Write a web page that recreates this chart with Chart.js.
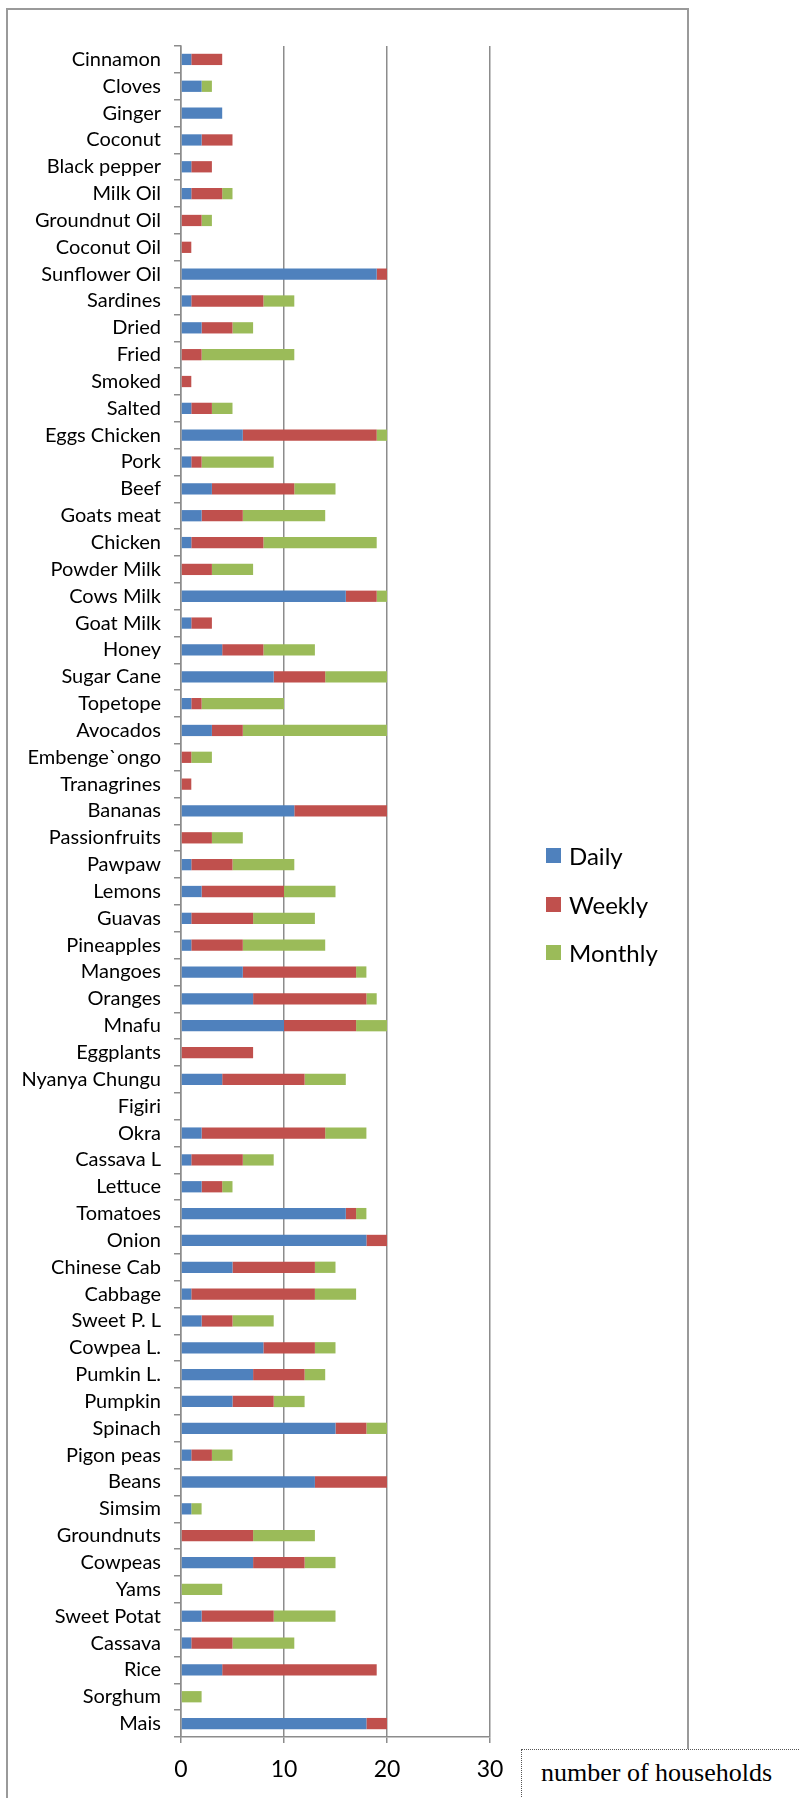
<!DOCTYPE html>
<html>
<head>
<meta charset="utf-8">
<title>Food consumption frequency</title>
<script src="https://cdn.jsdelivr.net/npm/chart.js@4.4.0/dist/chart.umd.min.js"></script>
<style>
  body { margin: 0; background: #fff; }
  #page { position: relative; width: 800px; height: 1798px; overflow: hidden; }
  #frame { position: absolute; left: 6px; top: 8px; width: 679px; height: 1900px; border: 2px solid #9a9a9a; }
  #chart { position: absolute; left: 0; top: 0; }
  #legend { position: absolute; left: 546px; top: 831px; font-family: Lato, sans-serif; font-size: 24px; color: #000; }
  .item { display: flex; align-items: center; height: 48.7px; }
  .swatch { width: 15px; height: 15px; margin-right: 8px; }
  #unitBox { position: absolute; left: 521px; top: 1749px; width: 300px; height: 80px; border: 1px dotted #555; background: #fff; }
  #unitBox span { position: absolute; left: 19px; top: 8px; font-family: "Liberation Serif", serif; font-size: 26px; line-height: 30px; color: #000; white-space: nowrap; }
</style>
</head>
<body>
<div id="page">
  <div id="frame"></div>
  <canvas id="chart" width="800" height="1798"></canvas>
  <div id="legend"></div>
  <div id="unitBox"><span>number of households</span></div>
</div>
<script>
// items listed top to bottom
const categories = [
  "Cinnamon", "Cloves", "Ginger", "Coconut", "Black pepper", "Milk Oil", "Groundnut Oil",
  "Coconut Oil", "Sunflower Oil", "Sardines", "Dried", "Fried", "Smoked", "Salted",
  "Eggs Chicken", "Pork", "Beef", "Goats meat", "Chicken", "Powder Milk", "Cows Milk",
  "Goat Milk", "Honey", "Sugar Cane", "Topetope", "Avocados", "Embenge`ongo", "Tranagrines",
  "Bananas", "Passionfruits", "Pawpaw", "Lemons", "Guavas", "Pineapples", "Mangoes",
  "Oranges", "Mnafu", "Eggplants", "Nyanya Chungu", "Figiri", "Okra", "Cassava L",
  "Lettuce", "Tomatoes", "Onion", "Chinese Cab", "Cabbage", "Sweet P. L", "Cowpea L.",
  "Pumkin L.", "Pumpkin", "Spinach", "Pigon peas", "Beans", "Simsim", "Groundnuts",
  "Cowpeas", "Yams", "Sweet Potat", "Cassava", "Rice", "Sorghum", "Mais"
];

const daily = [
  1, 2, 4, 2, 1, 1, 0,
  0, 19, 1, 2, 0, 0, 1,
  6, 1, 3, 2, 1, 0, 16,
  1, 4, 9, 1, 3, 0, 0,
  11, 0, 1, 2, 1, 1, 6,
  7, 10, 0, 4, 0, 2, 1,
  2, 16, 18, 5, 1, 2, 8,
  7, 5, 15, 1, 13, 1, 0,
  7, 0, 2, 1, 4, 0, 18
];

const weekly = [
  3, 0, 0, 3, 2, 3, 2,
  1, 1, 7, 3, 2, 1, 2,
  13, 1, 8, 4, 7, 3, 3,
  2, 4, 5, 1, 3, 1, 1,
  9, 3, 4, 8, 6, 5, 11,
  11, 7, 7, 8, 0, 12, 5,
  2, 1, 2, 8, 12, 3, 5,
  5, 4, 3, 2, 7, 0, 7,
  5, 0, 7, 4, 15, 0, 2
];

const monthly = [
  0, 1, 0, 0, 0, 1, 1,
  0, 0, 3, 2, 9, 0, 2,
  1, 7, 4, 8, 11, 4, 1,
  0, 5, 6, 8, 14, 2, 0,
  0, 3, 6, 5, 6, 8, 1,
  1, 3, 0, 4, 0, 4, 3,
  1, 1, 0, 2, 4, 4, 2,
  2, 3, 2, 2, 0, 1, 6,
  3, 4, 6, 6, 0, 2, 0
];

const seriesNames = ["Daily", "Weekly", "Monthly"];
const seriesColors = ["#4f81bd", "#c0504d", "#9bbb59"];
const xTicks = [0, 10, 20, 30];

const axisGray = "#8c8c8c";

const chart = new Chart(document.getElementById("chart"), {
  type: "bar",
  data: {
    labels: categories,
    datasets: [daily, weekly, monthly].map((values, i) => ({
      label: seriesNames[i],
      data: values,
      backgroundColor: seriesColors[i],
      borderWidth: 0
    }))
  },
  options: {
    indexAxis: "y",
    responsive: false,
    animation: false,
    layout: { padding: { top: 46, right: 310, bottom: 0, left: 0 } },
    datasets: { bar: { categoryPercentage: 1, barPercentage: 0.42 } },
    plugins: {
      legend: { display: false },
      tooltip: { enabled: false }
    },
    scales: {
      x: {
        stacked: true,
        min: 0,
        max: 30,
        afterBuildTicks: (scale) => { scale.ticks = xTicks.map((v) => ({ value: v })); },
        afterFit: (scale) => { scale.height = 61; },
        ticks: { color: "#000", font: { family: "Lato", size: 23 }, padding: 13 },
        grid: { color: axisGray, lineWidth: 1.5, tickLength: 6 },
        border: { color: axisGray, width: 1.5 }
      },
      y: {
        stacked: true,
        afterFit: (scale) => { scale.width = 181; },
        ticks: { color: "#000", font: { family: "Lato", size: 20 }, padding: 13, autoSkip: false },
        grid: { drawOnChartArea: false, color: axisGray, lineWidth: 1.5, tickLength: 7 },
        border: { color: axisGray, width: 1.5 }
      }
    }
  }
});

// legend built from the chart's datasets
const legend = document.getElementById("legend");
for (const ds of chart.data.datasets) {
  const item = document.createElement("div");
  item.className = "item";
  item.innerHTML = `<span class="swatch" style="background:${ds.backgroundColor}"></span><span>${ds.label}</span>`;
  legend.appendChild(item);
}
</script>
</body>
</html>
